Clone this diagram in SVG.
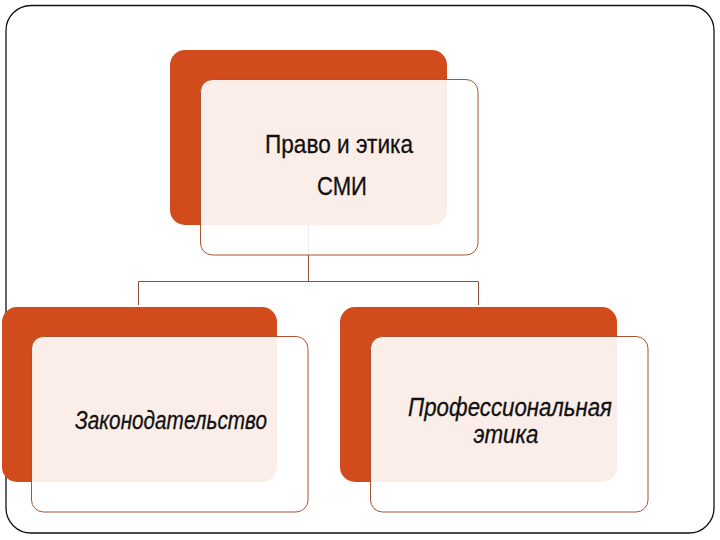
<svg xmlns="http://www.w3.org/2000/svg" width="720" height="540" viewBox="0 0 720 540">
<style>
.back{fill:#D24B1C}
.front{fill:#ffffff;fill-opacity:0.9;stroke:#A8542E;stroke-width:1}
.conn{fill:none;stroke:#8C5238;stroke-width:1}
.t{font-family:"Liberation Sans","DejaVu Sans",sans-serif;fill:#111;text-anchor:middle}
.ti{font-family:"Liberation Sans","DejaVu Sans",sans-serif;fill:#111;font-style:italic;text-anchor:middle}
</style>
<rect x="0" y="0" width="720" height="540" fill="#ffffff"/>
<rect x="6" y="5.5" width="708" height="527.5" rx="25" ry="25" fill="none" stroke="#111" stroke-width="1.3"/>
<g id="connectors">
<path class="conn" d="M308.5 225 V281.5 M138.5 305 V281.5 H478.5 V305"/>
</g>
<g id="node-top">
<rect class="back" x="170" y="50" width="277" height="175" rx="15" ry="15"/>
<rect class="front" x="200.5" y="79.5" width="277.5" height="175.5" rx="12" ry="12"/>
<text class="t" x="339" y="153" font-size="26" stroke="#111" stroke-width="0.3" textLength="148" lengthAdjust="spacingAndGlyphs">Право и этика</text>
<text class="t" x="342" y="195" font-size="26" stroke="#111" stroke-width="0.3" textLength="50" lengthAdjust="spacingAndGlyphs">СМИ</text>
</g>
<g id="node-left">
<rect class="back" x="2" y="307" width="275" height="175" rx="15" ry="15"/>
<rect class="front" x="31.5" y="336.5" width="276.5" height="175.5" rx="12" ry="12"/>
<text class="ti" x="171" y="429" font-size="25" stroke="#111" stroke-width="0.3" textLength="192" lengthAdjust="spacingAndGlyphs">Законодательство</text>
</g>
<g id="node-right">
<rect class="back" x="340" y="307" width="277" height="175" rx="15" ry="15"/>
<rect class="front" x="370.5" y="336.5" width="277.5" height="175.5" rx="12" ry="12"/>
<text class="ti" x="510" y="416" font-size="25" stroke="#111" stroke-width="0.3" textLength="204" lengthAdjust="spacingAndGlyphs">Профессиональная</text>
<text class="ti" x="506" y="443" font-size="25" stroke="#111" stroke-width="0.3" textLength="65" lengthAdjust="spacingAndGlyphs">этика</text>
</g>
</svg>
